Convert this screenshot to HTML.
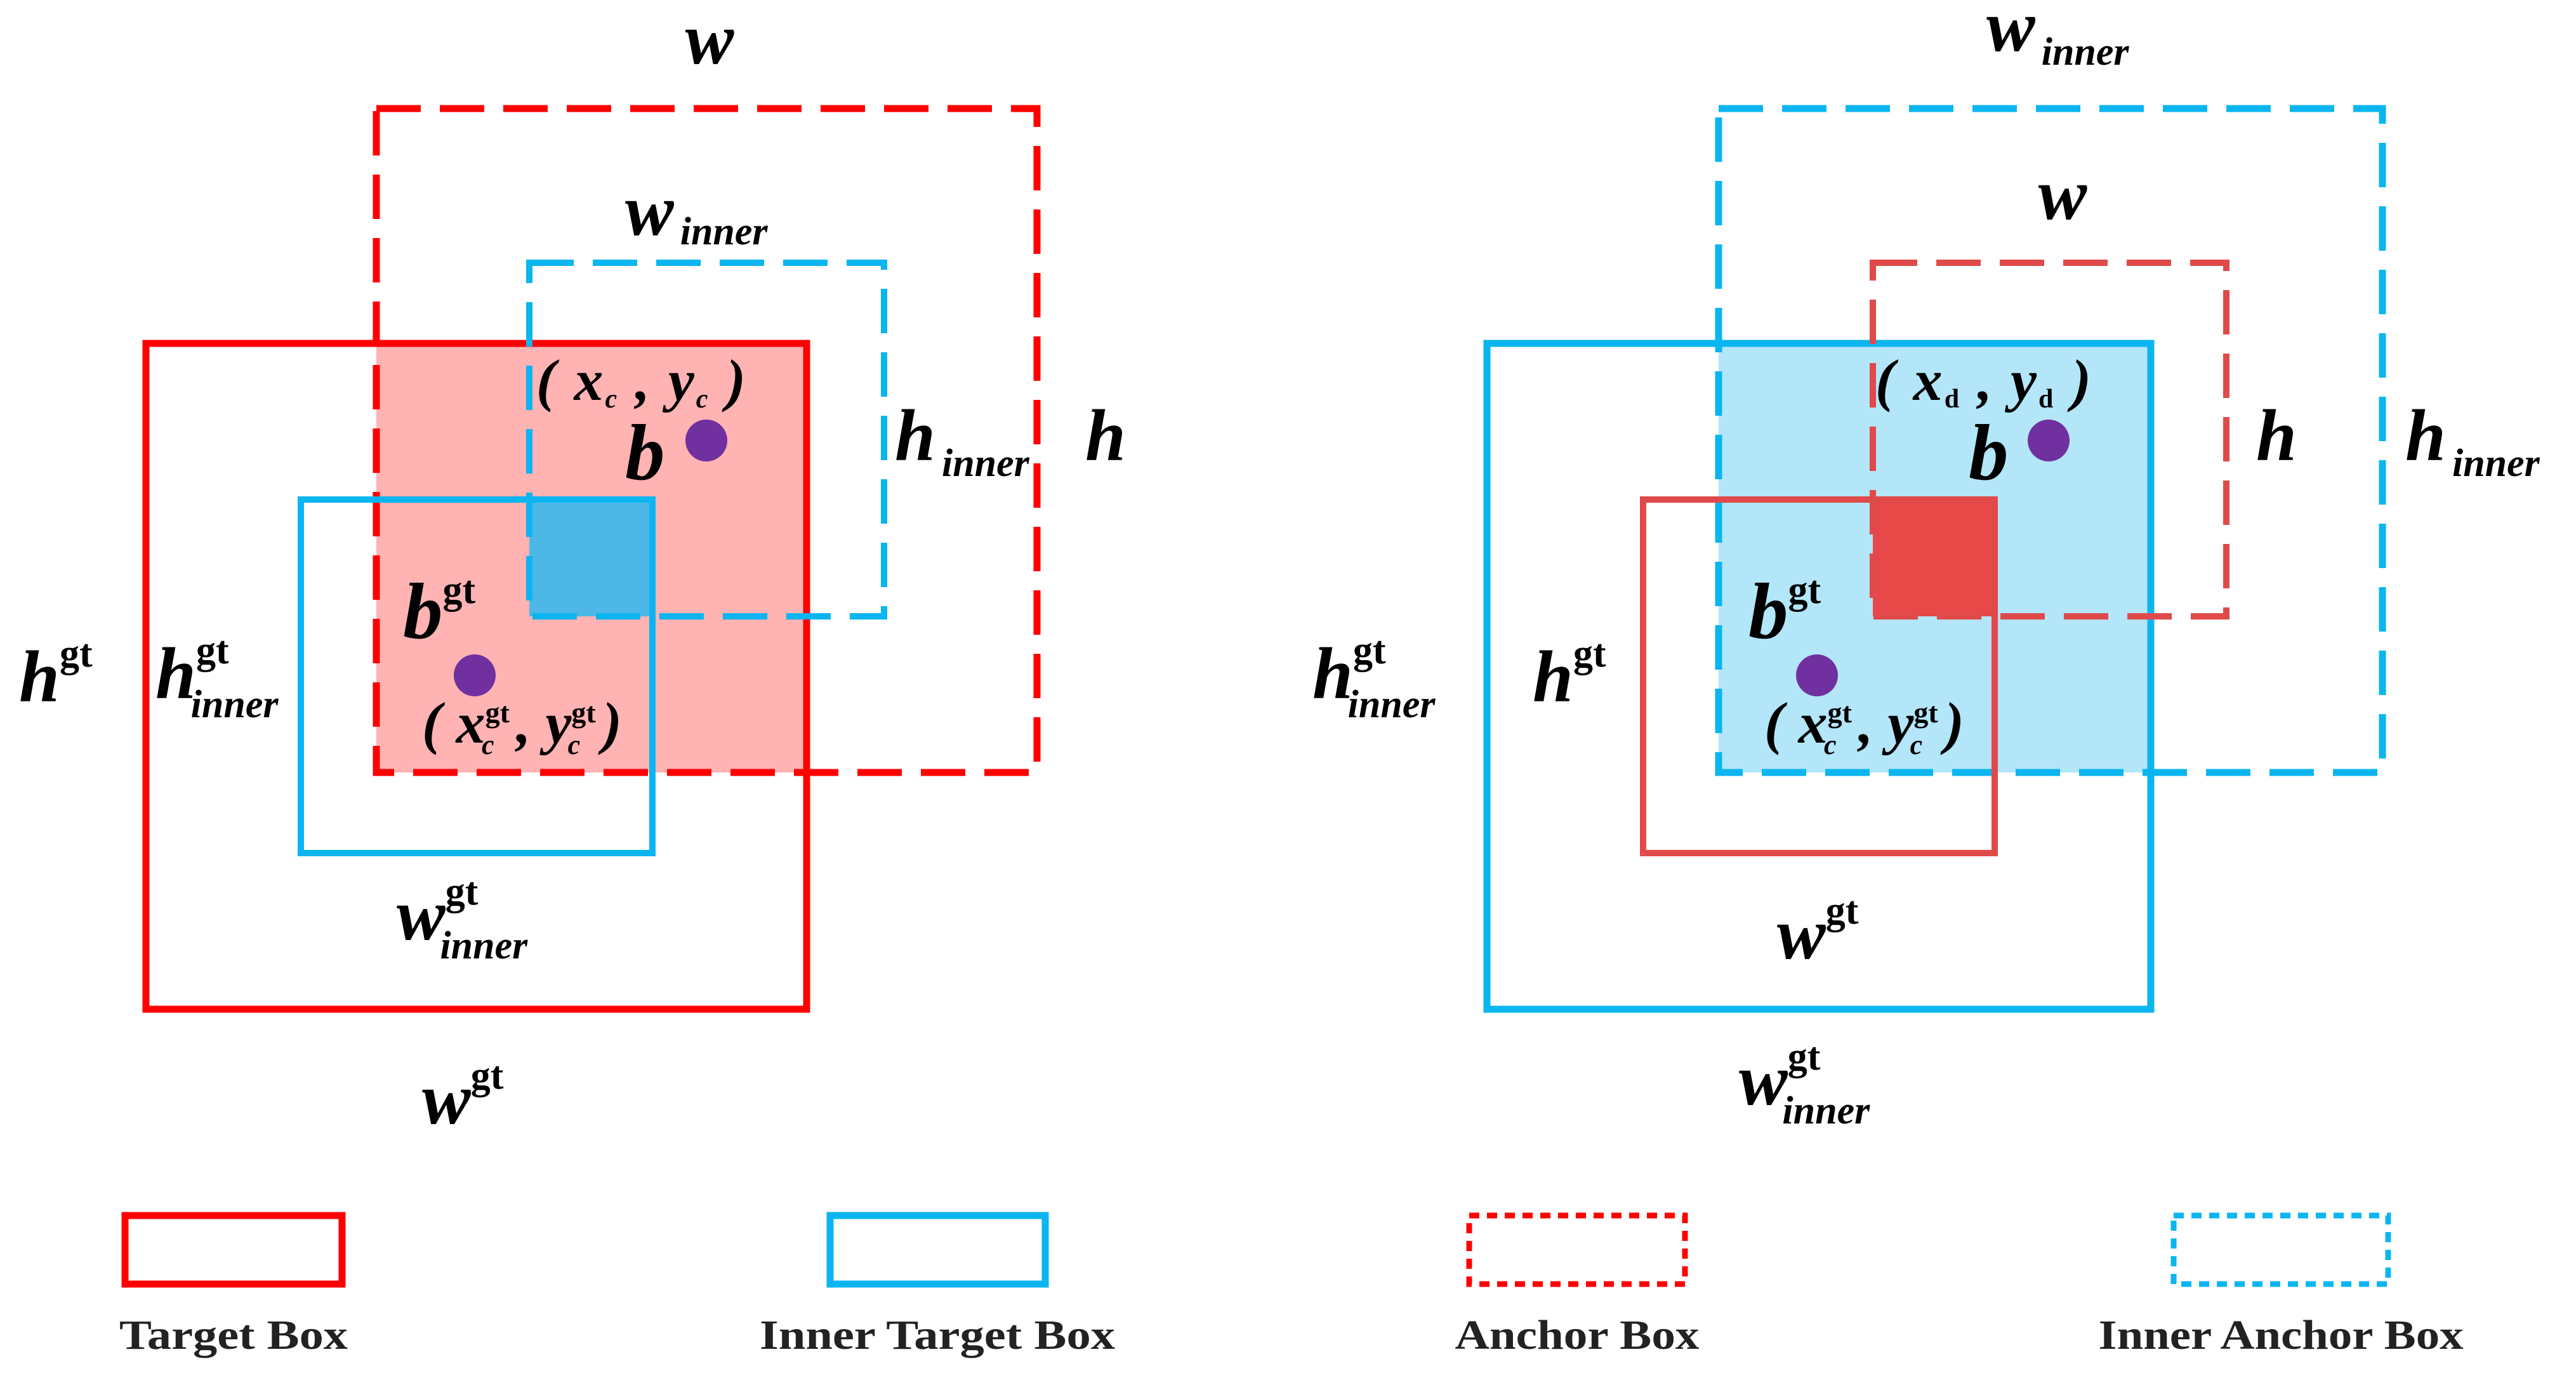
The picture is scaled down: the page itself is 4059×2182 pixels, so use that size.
<!DOCTYPE html>
<html><head><meta charset="utf-8"><style>html,body{margin:0;padding:0;background:#fff}svg{display:block}</style></head>
<body>
<svg width="4059" height="2182" viewBox="0 0 4059 2182" xmlns="http://www.w3.org/2000/svg" font-family="'Liberation Serif', serif" font-weight="bold">
<rect width="4059" height="2182" fill="#fff"/>
<!-- LEFT PANEL -->
<rect x="593" y="541" width="678" height="676" fill="#ffb3b3"/>
<rect x="834" y="787" width="194" height="184" fill="#4db8e8"/>
<rect x="593" y="171" width="1041" height="1046" fill="none" stroke="#f00" stroke-width="11" stroke-dasharray="70,30"/>
<rect x="230" y="541" width="1041" height="1049" fill="none" stroke="#f00" stroke-width="11"/>
<rect x="834" y="414" width="559" height="557" fill="none" stroke="#0bb5f0" stroke-width="10" stroke-dasharray="70,30"/>
<rect x="474" y="787" width="554" height="557" fill="none" stroke="#0bb5f0" stroke-width="10"/>
<circle cx="1113" cy="694" r="33" fill="#7030a0"/>
<circle cx="748" cy="1064" r="33" fill="#7030a0"/>
<g font-style="italic" fill="#000">
<text x="1118" y="100" font-size="115" text-anchor="middle">w</text>
<text x="985" y="370" font-size="115">w<tspan font-size="62" dx="10" dy="15">inner</tspan></text>
<text x="1410" y="725" font-size="115">h<tspan font-size="62" dx="10" dy="25">inner</tspan></text>
<text x="1710" y="725" font-size="115">h</text>
<text x="845" y="630" font-size="92" textLength="330" lengthAdjust="spacing">( x<tspan font-size="42" dy="12">c</tspan><tspan dy="-12"> , y</tspan><tspan font-size="42" dy="12">c</tspan><tspan dy="-12"> )</tspan></text>
<text x="985" y="755" font-size="125">b</text>
<text x="635" y="1005" font-size="125">b<tspan font-style="normal" font-size="62" dy="-55">gt</tspan></text>
<text x="30" y="1105" font-size="115">h<tspan font-style="normal" font-size="62" dy="-55">gt</tspan></text>
<text x="245" y="1100" font-size="115">h<tspan font-style="normal" font-size="62" dy="-55">gt</tspan><tspan font-size="62" dx="-60" dy="85">inner</tspan></text>
<text x="665" y="1170" font-size="92">( x<tspan font-style="normal" font-size="46" dy="-32">gt</tspan><tspan font-size="44" dx="-44" dy="50">c</tspan><tspan dx="12" dy="-18"> , y</tspan><tspan font-style="normal" font-size="46" dy="-32">gt</tspan><tspan font-size="44" dx="-44" dy="50">c</tspan><tspan dx="12" dy="-18"> )</tspan></text>
<text x="625" y="1480" font-size="115">w<tspan font-style="normal" font-size="62" dy="-55">gt</tspan><tspan font-size="62" dx="-60" dy="85">inner</tspan></text>
<text x="665" y="1770" font-size="115">w<tspan font-style="normal" font-size="62" dy="-55">gt</tspan></text>
</g>
<!-- RIGHT PANEL -->
<rect x="2708" y="541" width="681" height="676" fill="#b3e6f9"/>
<rect x="2951" y="787" width="192" height="184" fill="#e84848"/>
<rect x="2708" y="171" width="1046" height="1046" fill="none" stroke="#0bb5f0" stroke-width="11" stroke-dasharray="70,30"/>
<rect x="2343" y="541" width="1046" height="1049" fill="none" stroke="#0bb5f0" stroke-width="11"/>
<rect x="2951" y="414" width="557" height="557" fill="none" stroke="#e04a4a" stroke-width="10" stroke-dasharray="70,30"/>
<rect x="2589" y="787" width="554" height="557" fill="none" stroke="#e04a4a" stroke-width="10"/>
<circle cx="3228" cy="694" r="33" fill="#7030a0"/>
<circle cx="2863" cy="1064" r="33" fill="#7030a0"/>
<g font-style="italic" fill="#000">
<text x="3130" y="80" font-size="115">w<tspan font-size="62" dx="10" dy="22">inner</tspan></text>
<text x="3250" y="345" font-size="115" text-anchor="middle">w</text>
<text x="2955" y="630" font-size="92" textLength="340" lengthAdjust="spacing">( x<tspan font-style="normal" font-size="42" dy="12">d</tspan><tspan dy="-12"> , y</tspan><tspan font-style="normal" font-size="42" dy="12">d</tspan><tspan dy="-12"> )</tspan></text>
<text x="3102" y="755" font-size="125">b</text>
<text x="3555" y="725" font-size="115">h</text>
<text x="3790" y="725" font-size="115">h<tspan font-size="62" dx="10" dy="25">inner</tspan></text>
<text x="2755" y="1005" font-size="125">b<tspan font-style="normal" font-size="62" dy="-55">gt</tspan></text>
<text x="2415" y="1105" font-size="115">h<tspan font-style="normal" font-size="62" dy="-55">gt</tspan></text>
<text x="2068" y="1100" font-size="115">h<tspan font-style="normal" font-size="62" dy="-55">gt</tspan><tspan font-size="62" dx="-60" dy="85">inner</tspan></text>
<text x="2780" y="1170" font-size="92">( x<tspan font-style="normal" font-size="46" dy="-32">gt</tspan><tspan font-size="44" dx="-44" dy="50">c</tspan><tspan dx="12" dy="-18"> , y</tspan><tspan font-style="normal" font-size="46" dy="-32">gt</tspan><tspan font-size="44" dx="-44" dy="50">c</tspan><tspan dx="12" dy="-18"> )</tspan></text>
<text x="2800" y="1510" font-size="115">w<tspan font-style="normal" font-size="62" dy="-55">gt</tspan></text>
<text x="2740" y="1740" font-size="115">w<tspan font-style="normal" font-size="62" dy="-55">gt</tspan><tspan font-size="62" dx="-60" dy="85">inner</tspan></text>
</g>
<!-- LEGEND -->
<rect x="197" y="1915" width="342" height="108" fill="none" stroke="#f00" stroke-width="11"/>
<rect x="1308" y="1915" width="339" height="108" fill="none" stroke="#0bb5f0" stroke-width="11"/>
<rect x="2315" y="1915" width="340" height="108" fill="none" stroke="#f00" stroke-width="9" stroke-dasharray="16,12"/>
<rect x="3425" y="1915" width="338" height="108" fill="none" stroke="#0bb5f0" stroke-width="9" stroke-dasharray="16,12"/>
<g font-size="66" text-anchor="middle" fill="#222">
<text x="368" y="2125" textLength="360" lengthAdjust="spacingAndGlyphs">Target Box</text>
<text x="1477" y="2125" textLength="560" lengthAdjust="spacingAndGlyphs">Inner Target Box</text>
<text x="2485" y="2125" textLength="385" lengthAdjust="spacingAndGlyphs">Anchor Box</text>
<text x="3594" y="2125" textLength="575" lengthAdjust="spacingAndGlyphs">Inner Anchor Box</text>
</g>
</svg>
</body></html>
